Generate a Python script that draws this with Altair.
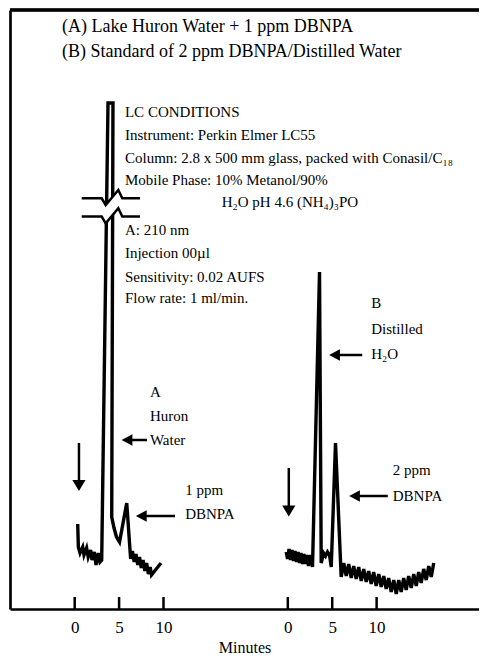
import altair as alt
import pandas as pd

FONT = "Liberation Serif"
B_OFFSET = 24  # trace B drawn to the right of trace A on the same time axis

# ---- Trace A: Lake Huron water + 1 ppm DBNPA (minutes, detector response) ----
a_min = [0.34, 0.41, 0.60, 0.90, 1.05, 1.34, 1.52, 1.79, 1.95, 2.21, 2.40, 2.66, 2.85, 3.04,
         3.75, 4.31, 4.17, 4.43, 4.71, 5.05, 5.86,
         6.30, 6.50, 6.70, 6.90, 7.10, 7.30, 7.50, 7.70, 7.90, 8.10, 8.30, 8.50, 8.65, 9.72]
a_resp = [85, 62, 56, 62, 54, 61, 52, 59, 49, 57, 44, 56, 47, 49,
          506, 506, 92, 81, 72, 67, 106,
          50, 58, 47, 55, 44, 52, 41, 49, 38, 46, 35, 42, 34, 46]

# ---- Trace B: 2 ppm DBNPA standard in distilled water ----
b_min = [-0.18, -0.03, 0.14, 0.30, 0.47, 0.64, 0.81, 0.98, 1.15, 1.32, 1.49, 1.66, 1.82, 1.99, 2.16, 2.33,
         2.56, 2.78, 3.57, 3.76, 4.02, 4.25, 4.47, 4.70, 4.89, 5.37, 6.01,
         6.30, 6.58, 6.86, 7.14, 7.42, 7.70, 7.98, 8.27, 8.55, 8.83, 9.11, 9.39, 9.67, 9.95, 10.24,
         10.52, 10.80, 11.08, 11.36, 11.64, 11.93, 12.21, 12.49, 12.77, 13.05, 13.33, 13.61, 13.90,
         14.18, 14.46, 14.74, 15.02, 15.30, 15.59, 15.87, 16.15, 16.43]
b_resp = [57, 50, 60, 49, 59, 48, 58, 47, 57, 46, 56, 45, 55, 45, 54, 43,
          54, 42, 337, 46, 56, 53, 57, 54, 42, 166, 32,
          46, 33, 45, 31, 43, 30, 42, 28, 40, 27, 38, 25, 37, 23, 35,
          22, 33, 20, 31, 17, 29, 15, 29, 17, 31, 19, 33, 21,
          35, 23, 37, 26, 40, 29, 43, 32, 46]

# ---- axis break symbol on peak A ----
brk_x = [0.79, 3.04, 3.49, 4.91, 5.36, 7.35]
brk_top = [410.7, 410.7, 404, 419, 410.7, 410.7]
brk_bot = [392.4, 392.4, 385.7, 400.7, 392.4, 392.4]

tick_minutes = [0, 5, 10]

title_lines = ["(A) Lake Huron Water + 1 ppm DBNPA", "(B) Standard of 2 ppm DBNPA/Distilled Water"]
title_x = [-1.43, -1.43]
title_y = [582, 557]

lc_lines = ["LC CONDITIONS", "Instrument: Perkin Elmer LC55",
            "Column: 2.8 x 500 mm glass, packed with Conasil/C\u2081\u2088",
            "Mobile Phase: 10% Metanol/90%", "H\u2082O pH 4.6 (NH\u2084)\u2083PO",
            "A: 210 nm", "Injection 00\u00b5l", "Sensitivity: 0.02 AUFS", "Flow rate: 1 ml/min."]
lc_x = [5.66, 5.66, 5.66, 5.66, 16.55, 5.66, 5.66, 5.66, 5.66]
lc_y = [497, 474, 451, 429, 407, 379, 356, 332, 311]

note_text = ["A", "Huron", "Water", "1 ppm", "DBNPA", "B", "Distilled", "H\u2082O", "2 ppm", "DBNPA"]
note_x = [8.47, 8.47, 8.47, 12.44, 12.44, 33.39, 33.39, 33.39, 35.82, 35.82]
note_y = [217, 193, 169, 119, 95, 306, 280, 255, 139, 113]

# left-pointing arrows: head centre x, shaft end x, y
larrow_x = [5.89, 7.50, 29.26, 31.51]
larrow_x2 = [8.14, 11.30, 32.38, 35.26]
larrow_y = [169, 93, 254, 113]
# injection (down) arrows
darrow_x = [0.48, 24.11]
darrow_top = [166, 141]
darrow_head = [123.5, 98]

# ---------------- build tables ----------------
trace = pd.DataFrame({
    "x": a_min + [m + B_OFFSET for m in b_min],
    "y": a_resp + b_resp,
    "trace": ["A"] * len(a_min) + ["B"] * len(b_min),
    "i": list(range(len(a_min))) + list(range(len(b_min))),
})
brk = pd.DataFrame({"x": brk_x, "y": brk_top, "y2": brk_bot})
ticks = pd.DataFrame({"x": tick_minutes + [t + B_OFFSET for t in tick_minutes], "y": 0, "y2": 12})
titles = pd.DataFrame({"x": title_x, "y": title_y, "t": title_lines})
lc = pd.DataFrame({"x": lc_x, "y": lc_y, "t": lc_lines})
notes = pd.DataFrame({"x": note_x, "y": note_y, "t": note_text})
larrows = pd.DataFrame({"x": larrow_x, "x2": larrow_x2, "y": larrow_y})
darrows = pd.DataFrame({"x": darrow_x, "y": darrow_top, "y2": darrow_head})

xscale = alt.Scale(domain=[-7.286, 45.53], nice=False, zero=False)
yscale = alt.Scale(domain=[0, 599], nice=False, zero=False)
label_vals = tick_minutes + [t + B_OFFSET for t in tick_minutes]
xaxis = alt.Axis(values=label_vals,
                 labelExpr="datum.value >= 20 ? format(datum.value - 24, 'd') : format(datum.value, 'd')",
                 ticks=False, tickSize=0, grid=False, domain=True, domainColor="black", domainWidth=2.7,
                 labelFont=FONT, labelFontSize=17, labelColor="black", labelPadding=10,
                 title="Minutes", titleFont=FONT, titleFontSize=16, titleFontWeight="normal",
                 titleColor="black", titleY=43, titleBaseline="alphabetic")
yaxis = alt.Axis(ticks=False, labels=False, grid=False, domain=True, domainColor="black",
                 domainWidth=2.7, title=None)


def X(f="x"):
    return alt.X(f, type="quantitative", scale=xscale, axis=xaxis)


def Y(f="y"):
    return alt.Y(f, type="quantitative", scale=yscale, axis=yaxis)


lines = alt.Chart(trace).mark_line(color="black", strokeWidth=3.4, strokeJoin="miter",
                                   strokeMiterLimit=4).encode(
    x=X(), y=Y(), detail="trace:N", order="i:Q")

band = alt.Chart(brk).mark_area(color="white", opacity=1).encode(x=X(), y=Y(), y2="y2")
brk_top_line = alt.Chart(brk).mark_line(color="black", strokeWidth=2.5).encode(x=X(), y=Y())
brk_bot_line = alt.Chart(brk).mark_line(color="black", strokeWidth=2.5).encode(x=X(), y=Y("y2"))

tick_rules = alt.Chart(ticks).mark_rule(color="black", strokeWidth=2.5).encode(x=X(), y=Y(), y2="y2")

top_line = alt.Chart(ticks).mark_rule(color="black", strokeWidth=2.7).encode(
    x=alt.value(0), x2=alt.value(469), y=alt.value(0))

title_text = alt.Chart(titles).mark_text(align="left", baseline="middle", font=FONT, fontSize=18,
                                         color="black").encode(x=X(), y=Y(), text="t")
lc_text = alt.Chart(lc).mark_text(align="left", baseline="middle", font=FONT, fontSize=15,
                                  color="black").encode(x=X(), y=Y(), text="t")
note_marks = alt.Chart(notes).mark_text(align="left", baseline="middle", font=FONT, fontSize=15,
                                        color="black").encode(x=X(), y=Y(), text="t")

lshaft = alt.Chart(larrows).mark_rule(color="black", strokeWidth=2.5).encode(x=X(), x2="x2", y=Y())
lhead = alt.Chart(larrows).mark_point(shape="M-0.9,0L0.9,-0.95L0.9,0.95Z", size=144, filled=True,
                                      color="black", opacity=1, strokeWidth=0).encode(x=X(), y=Y())
dshaft = alt.Chart(darrows).mark_rule(color="black", strokeWidth=2.5).encode(x=X(), y=Y(), y2="y2")
dhead = alt.Chart(darrows).mark_point(shape="M-1.1,-0.9L1.1,-0.9L0,0.9Z", size=144, filled=True,
                                      color="black", opacity=1, strokeWidth=0).encode(x=X(), y=Y("y2"))

chart = alt.layer(
    lines, band, brk_top_line, brk_bot_line, tick_rules, top_line,
    title_text, lc_text, note_marks, lshaft, lhead, dshaft, dhead
).properties(
    width=469, height=599,
    autosize=alt.AutoSizeParams(type="none"),
    padding={"left": 2, "top": 2, "right": 0, "bottom": 45},
    background="white",
).configure_view(stroke=None)

chart.save("out.html", embed_options={"renderer": "svg", "actions": False})
